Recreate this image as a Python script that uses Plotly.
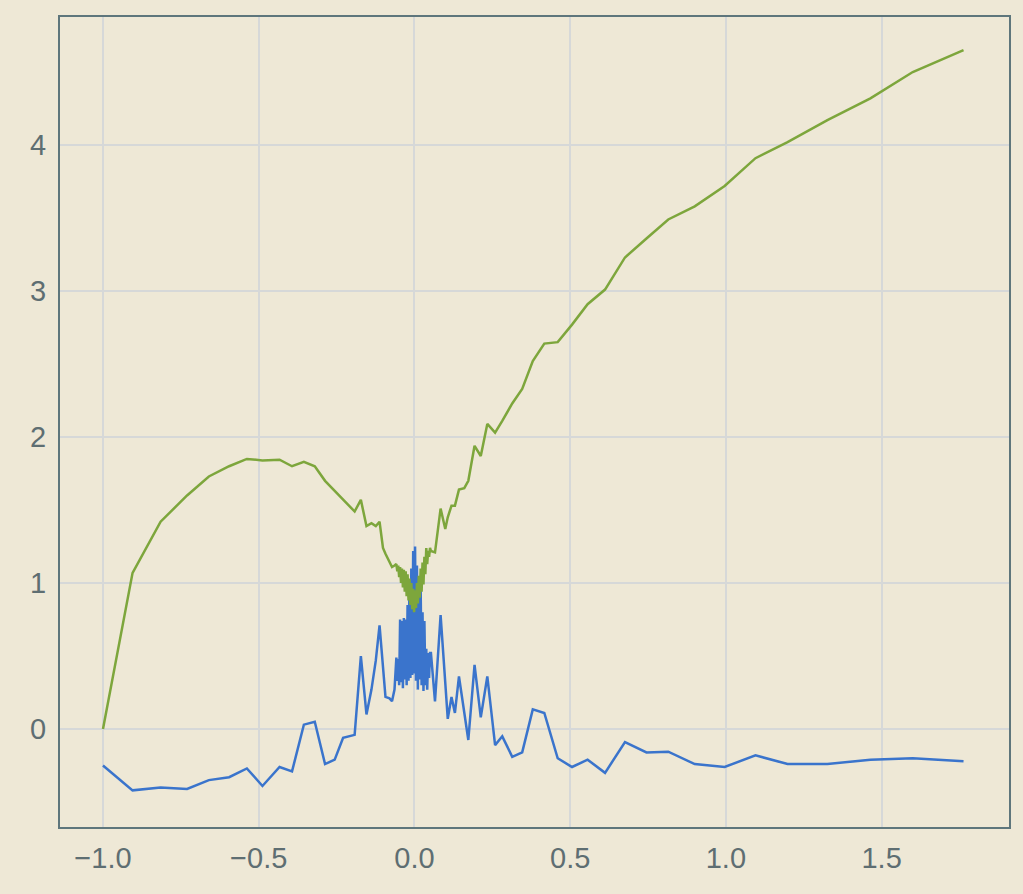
import plotly.graph_objects as go

# Shared sample positions
x_left = [-1.0, -0.905, -0.815, -0.73, -0.66, -0.595, -0.538, -0.488, -0.433, -0.393,
          -0.355, -0.32, -0.287, -0.256, -0.229, -0.192, -0.172, -0.154, -0.138, -0.124,
          -0.112, -0.101, -0.093, -0.08, -0.072, -0.064]
x_mid = [-0.058, -0.055, -0.052, -0.049, -0.046, -0.043, -0.040, -0.037, -0.034, -0.031,
         -0.028, -0.025, -0.022, -0.019, -0.016, -0.013, -0.010, -0.007, -0.004, -0.001,
         0.002, 0.005, 0.008, 0.011, 0.014, 0.017, 0.020, 0.023, 0.026, 0.029,
         0.032, 0.035, 0.038, 0.041, 0.044, 0.047, 0.050]
x_right = [0.053, 0.066, 0.084, 0.099, 0.107, 0.119, 0.130, 0.143, 0.16, 0.173,
           0.193, 0.213, 0.234, 0.259, 0.282, 0.314, 0.346, 0.38, 0.417, 0.46,
           0.506, 0.556, 0.612, 0.676, 0.745, 0.815, 0.90, 0.996, 1.095, 1.198,
           1.326, 1.464, 1.60, 1.763]

# Blue series
blue_left = [-0.25, -0.42, -0.40, -0.41, -0.35, -0.33, -0.27, -0.39, -0.26, -0.29,
             0.03, 0.05, -0.24, -0.21, -0.06, -0.04, 0.50, 0.10, 0.27, 0.47,
             0.71, 0.45, 0.22, 0.21, 0.19, 0.27]
blue_mid = [0.49, 0.33, 0.48, 0.30, 0.75, 0.32, 0.74, 0.28, 0.76, 0.34,
            0.75, 0.30, 0.85, 0.33, 1.02, 0.35, 1.10, 0.37, 1.22, 0.38,
            1.25, 0.33, 1.12, 0.27, 1.02, 0.34, 0.98, 0.30, 0.80, 0.26,
            0.74, 0.30, 0.55, 0.27, 0.52, 0.35, 0.52]
blue_right = [0.52, 0.19, 0.78, 0.35, 0.07, 0.22, 0.11, 0.36, 0.12, -0.075,
              0.44, 0.08, 0.36, -0.11, -0.05, -0.19, -0.16, 0.135, 0.11, -0.20,
              -0.26, -0.21, -0.30, -0.09, -0.16, -0.155, -0.24, -0.26, -0.18, -0.24,
              -0.24, -0.21, -0.20, -0.22]

# Green series
green_left = [0.0, 1.07, 1.42, 1.60, 1.73, 1.80, 1.85, 1.84, 1.845, 1.80,
              1.83, 1.80, 1.70, 1.63, 1.57, 1.49, 1.57, 1.39, 1.41, 1.39,
              1.42, 1.24, 1.20, 1.15, 1.11, 1.12]
green_mid = [1.13, 1.08, 1.12, 1.04, 1.11, 1.00, 1.10, 0.97, 1.09, 0.94,
             1.08, 0.91, 1.06, 0.88, 1.03, 0.85, 1.00, 0.82, 0.96, 0.80,
             0.95, 0.83, 1.00, 0.86, 1.05, 0.90, 1.10, 0.94, 1.14, 0.99,
             1.18, 1.06, 1.24, 1.13, 1.22, 1.18, 1.24]
green_right = [1.22, 1.21, 1.51, 1.37, 1.45, 1.53, 1.53, 1.64, 1.65, 1.70,
               1.94, 1.87, 2.09, 2.03, 2.11, 2.23, 2.33, 2.52, 2.64, 2.65,
               2.77, 2.91, 3.01, 3.23, 3.36, 3.49, 3.58, 3.72, 3.91, 4.02,
               4.17, 4.32, 4.50, 4.65]

x_vals = x_left + x_mid + x_right
blue_vals = blue_left + blue_mid + blue_right
green_vals = green_left + green_mid + green_right

x_ticks = [-1.0, -0.5, 0.0, 0.5, 1.0, 1.5]
x_tick_text = ["\u22121.0", "\u22120.5", "0.0", "0.5", "1.0", "1.5"]
y_ticks = [0, 1, 2, 3, 4]

bg = "#EEE8D6"
frame = "#5E767C"
grid = "#D6D8D8"
label = "#5E6E72"

fig = go.Figure()
fig.add_trace(go.Scatter(x=x_vals, y=blue_vals, mode="lines",
                         line=dict(color="#3A74CC", width=2.5), showlegend=False))
fig.add_trace(go.Scatter(x=x_vals, y=green_vals, mode="lines",
                         line=dict(color="#7DA63C", width=2.5), showlegend=False))

axis_common = dict(showline=True, mirror=True, linecolor=frame, linewidth=2,
                   showgrid=True, gridcolor=grid, gridwidth=1.5, zeroline=False,
                   ticks="", tickfont=dict(family="Liberation Sans, Arial", size=29, color=label))

fig.update_xaxes(range=[-1.138, 1.909], tickvals=x_ticks, ticktext=x_tick_text,
                 ticklabelstandoff=4, **axis_common)
fig.update_yaxes(range=[-0.671, 4.877], tickvals=y_ticks, ticklabelstandoff=6, **axis_common)

fig.update_layout(width=1023, height=894, paper_bgcolor=bg, plot_bgcolor=bg,
                  margin=dict(l=60, r=12, t=17, b=67))

fig.write_html("out.html")
